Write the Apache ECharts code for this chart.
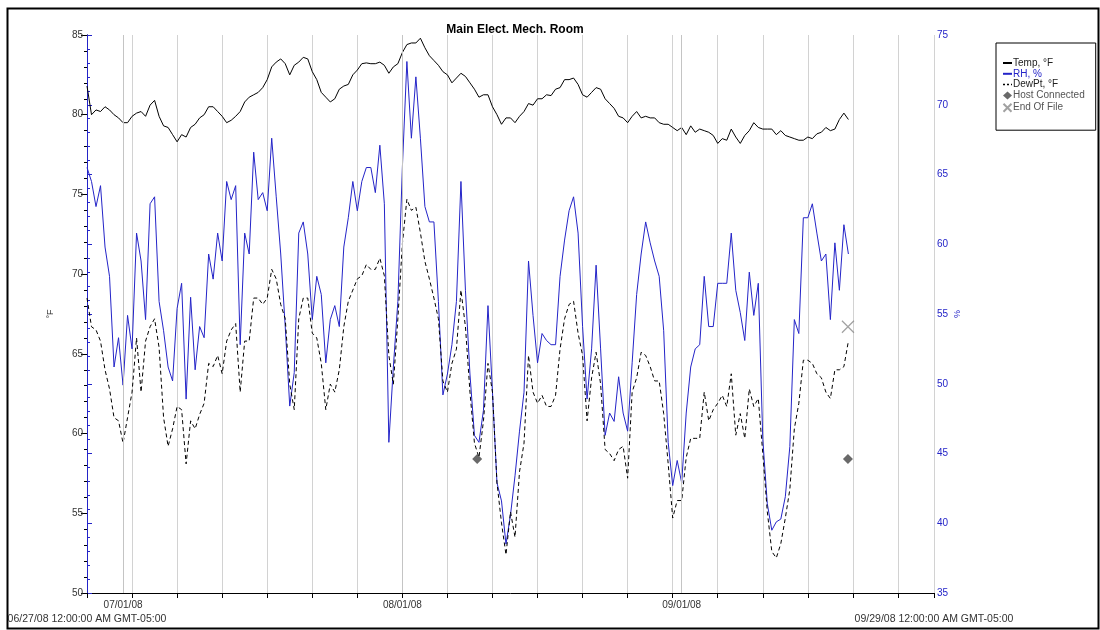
<!DOCTYPE html>
<html>
<head>
<meta charset="utf-8">
<script src="https://cdn.jsdelivr.net/npm/echarts@6/dist/echarts.min.js"></script>
<style>
html,body{margin:0;padding:0;background:#fff;}
#chart{width:1100px;height:630px;}
</style>
</head>
<body>
<div id="chart"></div>
<script>
// Time axis: days since 06/27/08 00:00 (GMT-05:00); samples every half day
const sampleStepDays = 0.5;
const axisEndDays = 94;
const gridStepDays = 5;
const monthDays = [4, 35, 66];
const monthLabels = ['07/01/08', '08/01/08', '09/01/08'];
const edgeLabels = ['06/27/08 12:00:00 AM GMT-05:00', '09/29/08 12:00:00 AM GMT-05:00'];

const tempF = [
81.8,80.0,80.3,80.2,80.5,80.3,80.0,79.8,79.5,79.5,79.9,80.1,80.2,79.9,80.6,80.9,79.9,79.3,79.2,78.75,
78.3,78.75,78.6,79.2,79.4,79.8,80.0,80.5,80.5,80.2,79.9,79.5,79.65,79.9,80.2,80.8,81.1,81.25,81.4,81.7,
82.2,83.0,83.3,83.5,83.2,82.5,83.1,
83.3,83.6,83.5,82.7,82.2,81.4,81.1,80.8,81.0,81.6,81.8,81.9,82.5,82.8,83.2,83.25,83.2,83.2,83.3,83.1,
82.6,83.0,83.2,83.9,84.4,84.5,84.5,84.8,84.2,83.7,83.4,83.1,82.7,82.5,82.0,82.3,82.6,82.4,82.0,81.6,
81.1,81.25,81.25,80.5,80.0,79.4,79.8,
79.8,79.5,79.9,80.2,80.7,80.6,81.0,81.0,81.25,81.2,81.6,81.7,82.2,82.2,82.3,81.9,81.25,81.1,81.4,81.7,
81.6,81.0,80.7,80.4,79.9,79.8,79.5,79.9,80.2,79.8,79.9,79.8,79.8,79.5,79.4,79.4,79.2,79.0,79.2,78.75,
79.3,78.9,79.1,79.0,78.9,78.7,78.2,
78.5,78.4,79.1,78.6,78.2,78.7,79.0,79.5,79.2,79.1,79.1,79.1,78.75,79.0,78.7,78.6,78.5,78.4,78.4,78.6,
78.5,78.8,78.9,79.2,79.0,79.1,79.7,80.1,79.7
];

const rhPct = [
65.5,64.5,62.7,64.2,59.8,57.7,51.2,53.3,49.9,54.9,52.5,60.8,58.8,54.6,62.9,63.4,55.9,53.8,51.2,50.2,
55.4,57.2,48.9,56.2,51.0,54.1,53.3,59.3,57.5,60.8,58.8,64.5,63.2,64.2,52.8,60.8,59.3,66.6,63.2,63.7,
62.4,67.6,63.4,59.3,54.1,48.4,50.8,
60.8,61.6,59.3,54.6,57.7,56.4,51.5,54.6,55.6,54.1,59.8,61.9,64.5,62.4,64.5,65.5,65.5,63.7,67.1,62.9,
45.8,51.2,55.9,65.5,73.1,67.6,72.0,67.6,62.7,61.6,61.6,55.9,49.2,50.7,52.8,55.9,64.5,56.7,50.7,46.3,
45.8,48.1,55.6,49.4,42.9,41.6,38.5,
40.6,43.4,46.6,49.4,58.8,54.9,51.5,53.6,53.1,52.8,52.8,57.7,60.3,62.4,63.4,60.8,54.1,48.9,52.5,58.5,
52.5,46.3,47.9,47.3,50.5,47.9,46.6,51.5,56.4,59.3,61.6,60.1,58.8,57.7,53.8,45.8,42.7,44.5,42.9,47.9,
51.2,52.5,52.8,57.7,54.1,54.1,57.2,
57.2,57.2,60.8,56.7,55.1,53.1,58.0,54.9,57.2,46.0,41.4,39.5,40.1,40.3,41.9,45.5,54.6,53.6,61.9,61.9,
62.9,60.8,58.8,59.3,54.6,60.1,56.7,61.4,59.3
];

const dewPtF = [
68.5,66.7,66.5,65.8,64.0,62.8,61.0,60.8,59.4,61.0,62.6,66.0,62.6,65.8,66.7,67.2,65.4,61.0,59.2,60.3,
61.7,61.5,58.1,60.8,60.3,61.2,61.9,64.4,64.2,64.9,63.75,65.8,66.5,66.9,62.6,65.8,65.8,68.5,68.5,68.1,
68.5,70.3,69.7,68.1,67.2,63.1,61.5,
67.2,68.5,68.5,66.3,66.0,64.4,61.5,63.1,62.6,64.0,66.7,68.3,69.0,69.7,69.9,70.6,70.3,70.3,71.0,69.9,
64.9,63.1,67.2,71.9,74.7,74.0,74.2,72.6,70.8,69.7,68.5,67.2,63.3,62.6,64.4,65.3,69.0,66.7,62.6,59.4,
58.5,60.8,64.4,62.6,56.9,54.4,52.4,
55.1,53.5,57.6,59.4,64.9,62.6,61.9,62.4,61.7,61.7,62.4,65.3,67.2,68.1,68.3,66.3,64.9,60.8,63.5,65.1,
63.1,59.0,58.75,58.3,59.0,59.2,57.2,62.6,63.5,65.1,64.9,64.2,63.3,63.3,61.25,58.1,54.7,55.8,55.8,58.5,
59.7,59.7,59.7,62.6,60.8,61.5,61.9,
62.4,61.7,63.75,59.9,61.25,59.7,62.8,61.7,62.2,58.75,55.1,52.6,52.2,53.1,54.7,56.5,60.3,61.9,64.6,64.6,
64.4,63.75,63.5,62.6,62.2,64.0,64.0,64.2,65.8
];

const hostConnectedDays = [43.3, 84.45];
const hostConnectedF = [58.4, 58.4];
const endOfFileDays = [84.45];
const endOfFileF = [66.7];

const days = tempF.map((_, i) => i * sampleStepDays);
const zip = (xs, ys) => xs.map((x, i) => [x, ys[i]]);

const FONT = 'Liberation Sans, Arial, sans-serif';
const BLUE = '#2424c8';
const hiddenSymbol = {opacity: 0};

const chart = echarts.init(document.getElementById('chart'), null, {renderer: 'canvas'});
chart.setOption({
  animation: false,
  backgroundColor: '#fff',
  textStyle: {fontFamily: FONT},
  title: {
    text: 'Main Elect. Mech. Room',
    left: 510, top: 19, textAlign: 'center',
    textStyle: {fontSize: 12, fontWeight: 'bold', color: '#000', fontFamily: FONT}
  },
  graphic: [{
    type: 'rect', left: 5, top: 6, silent: true,
    shape: {width: 1091, height: 620},
    style: {fill: 'none', stroke: '#000', lineWidth: 2}
  }],
  legend: {
    orient: 'vertical', left: 996, top: 43,
    itemWidth: 9, itemHeight: 8, itemGap: 0.8,
    padding: [15, 11, 16, 5],
    borderColor: '#000', borderWidth: 1, backgroundColor: '#fff',
    textStyle: {fontSize: 10, lineHeight: 10, color: '#222', fontFamily: FONT, padding: [0, 0, 0, -4]},
    data: [
      {name: 'Temp, °F', itemStyle: hiddenSymbol},
      {name: 'RH, %', itemStyle: hiddenSymbol, textStyle: {color: BLUE}},
      {name: 'DewPt, °F', itemStyle: hiddenSymbol, lineStyle: {type: [2, 2], width: 1.5}},
      {name: 'Host Connected', textStyle: {color: '#555'}},
      {name: 'End Of File', textStyle: {color: '#555'}}
    ]
  },
  grid: {left: 87, right: 166, top: 35, bottom: 37},
  xAxis: [
    {
      type: 'value', min: 0, max: axisEndDays, interval: gridStepDays,
      axisLine: {show: true, lineStyle: {color: '#000', width: 1}},
      axisTick: {show: true, length: 5, lineStyle: {color: '#000'}},
      axisLabel: {show: false},
      splitLine: {show: true, lineStyle: {color: '#d2d2d2', width: 1}}
    },
    {
      type: 'value', min: 0, max: axisEndDays, interval: 1, position: 'bottom',
      axisLine: {show: false}, axisTick: {show: false}, splitLine: {show: false},
      axisLabel: {
        show: true, margin: 7, fontSize: 10, color: '#333', fontFamily: FONT,
        formatter: v => { const k = monthDays.indexOf(v); return k >= 0 ? monthLabels[k] : ''; }
      }
    },
    {
      type: 'value', min: 0, max: axisEndDays, interval: axisEndDays, position: 'bottom',
      axisLine: {show: false}, axisTick: {show: false}, splitLine: {show: false},
      axisLabel: {
        show: true, margin: 21, fontSize: 10.5, color: '#333', fontFamily: FONT,
        showMinLabel: true, showMaxLabel: true,
        formatter: v => v === 0 ? edgeLabels[0] : (v === axisEndDays ? edgeLabels[1] : '')
      }
    }
  ],
  yAxis: [
    {
      type: 'value', min: 50, max: 85, interval: 5, position: 'left',
      name: '°F', nameLocation: 'middle', nameGap: 32, nameMoveOverlap: false,
      nameTextStyle: {fontSize: 9, color: '#333', fontFamily: FONT},
      axisLine: {show: true, lineStyle: {color: '#000'}},
      axisTick: {show: true, length: 6, lineStyle: {color: '#000'}},
      minorTick: {show: true, splitNumber: 5, length: 3, lineStyle: {color: '#000'}},
      axisLabel: {fontSize: 10, color: '#333', margin: 4, fontFamily: FONT},
      splitLine: {show: false}
    },
    {
      type: 'value', min: 35, max: 75, interval: 5, position: 'right',
      name: '%', nameLocation: 'middle', nameGap: 19, nameMoveOverlap: false,
      nameTextStyle: {fontSize: 9, color: BLUE, fontFamily: FONT},
      axisLine: {show: true, lineStyle: {color: BLUE}},
      axisTick: {show: true, length: 5, lineStyle: {color: BLUE}},
      minorTick: {show: true, splitNumber: 5, length: 3, lineStyle: {color: BLUE}},
      axisLabel: {fontSize: 10, color: BLUE, margin: 3, fontFamily: FONT},
      splitLine: {show: false}
    }
  ],
  series: [
    {
      name: 'Temp, °F', type: 'line', xAxisIndex: 0, yAxisIndex: 0,
      data: zip(days, tempF), symbol: 'none', showSymbol: false,
      lineStyle: {color: '#000', width: 1}, itemStyle: {color: '#000'},
      markLine: {
        silent: true, symbol: 'none', label: {show: false},
        lineStyle: {color: '#c4c4c4', width: 1, type: 'solid'},
        data: monthDays.map(d => ({xAxis: d}))
      },
      z: 3
    },
    {
      name: 'RH, %', type: 'line', xAxisIndex: 0, yAxisIndex: 1,
      data: zip(days, rhPct), symbol: 'none', showSymbol: false,
      lineStyle: {color: BLUE, width: 1}, itemStyle: {color: BLUE},
      z: 2
    },
    {
      name: 'DewPt, °F', type: 'line', xAxisIndex: 0, yAxisIndex: 0,
      data: zip(days, dewPtF), symbol: 'none', showSymbol: false,
      lineStyle: {color: '#000', width: 1, type: [4, 3]}, itemStyle: {color: '#000'},
      z: 3
    },
    {
      name: 'Host Connected', type: 'scatter', xAxisIndex: 0, yAxisIndex: 0,
      data: zip(hostConnectedDays, hostConnectedF),
      symbol: 'diamond', symbolSize: 10,
      itemStyle: {color: '#444'}, z: 4
    },
    {
      name: 'End Of File', type: 'scatter', xAxisIndex: 0, yAxisIndex: 0,
      data: zip(endOfFileDays, endOfFileF),
      symbol: 'path://M0,0L10,10M10,0L0,10', symbolSize: 12,
      itemStyle: {color: 'none', borderColor: '#8a8a8a', borderWidth: 1.2}, z: 4
    }
  ]
});
</script>
</body>
</html>
